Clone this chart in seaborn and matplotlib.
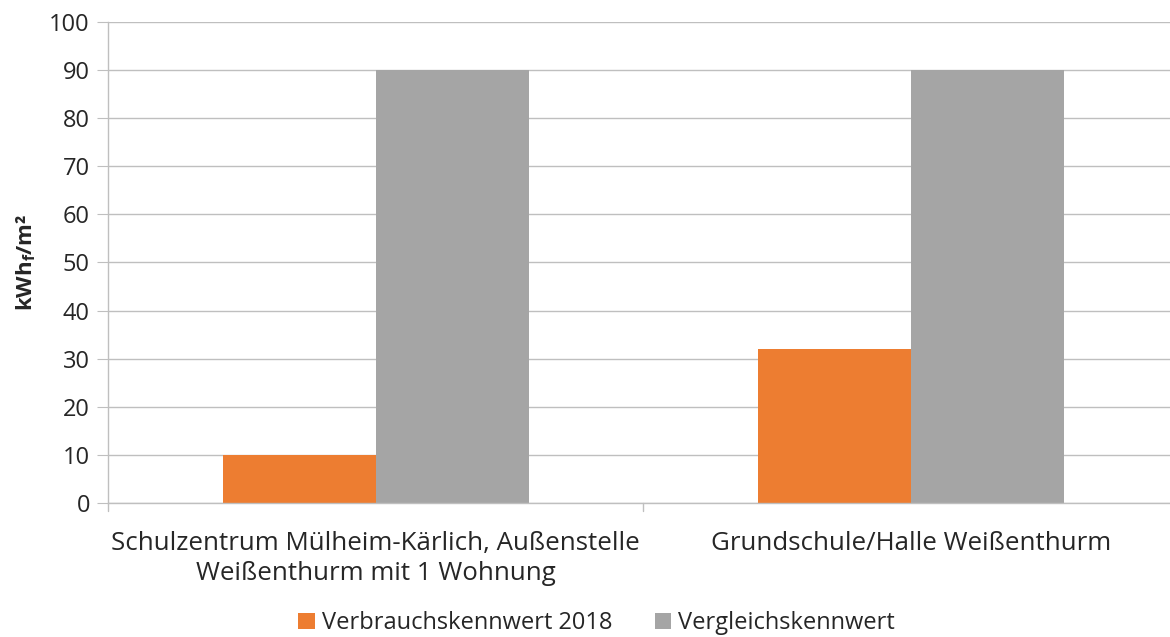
import pandas as pd
import matplotlib.pyplot as plt
import seaborn as sns

# Data
categories = ['Schulzentrum Mülheim-Kärlich, Außenstelle\nWeißenthurm mit 1 Wohnung',
              'Grundschule/Halle Weißenthurm']
verbrauch_2018 = [10, 32]
vergleich = [90, 90]
series_names = ['Verbrauchskennwert 2018', 'Vergleichskennwert']
colors = ['#ED7D31', '#A5A5A5']
y_ticks = list(range(0, 101, 10))

df = pd.DataFrame({
    'Gebäude': categories * 2,
    'Wert': verbrauch_2018 + vergleich,
    'Reihe': [series_names[0]] * 2 + [series_names[1]] * 2,
})

sns.set_style('white')
plt.rcParams['font.family'] = ['Open Sans', 'DejaVu Sans']
plt.rcParams['mathtext.default'] = 'regular'

fig = plt.figure(figsize=(11.7, 6.37), dpi=100)
ax = fig.add_axes([0.0923, 0.2104, 0.9077, 0.7551])

sns.barplot(data=df, x='Gebäude', y='Wert', hue='Reihe', palette=colors,
            width=0.572, saturation=1, gap=0, linewidth=0, ax=ax, legend=True)

ax.set_ylim(0, 100)
ax.set_xlim(-0.5, 1.484)
ax.set_yticks(y_ticks)
ax.yaxis.grid(True, color='#BFBFBF', linewidth=1)
ax.set_axisbelow(True)

for side in ['top', 'right']:
    ax.spines[side].set_visible(False)
for side in ['left', 'bottom']:
    ax.spines[side].set_color('#BFBFBF')
    ax.spines[side].set_linewidth(1)

ax.tick_params(axis='y', labelsize=17, length=8, color='#BFBFBF', direction='out', left=True, pad=5)
ax.set_xticks([0, 1])
ax.set_xticklabels(categories, fontsize=18.6, linespacing=1.25)
ax.tick_params(axis='x', length=0, pad=20)
# small separator ticks between categories
for xpos in [-0.5, 0.5]:
    ax.plot([xpos, xpos], [0, -1.6], color='#BFBFBF', lw=1, clip_on=False)

ax.set_xlabel('')
ax.set_ylabel(r'kWh$_{f}$/m²', fontsize=16, fontweight='bold', labelpad=8)

handles, labels = ax.get_legend_handles_labels()
ax.legend(handles, labels, loc='center', bbox_to_anchor=(0.46, -0.25),
          ncol=2, frameon=False, fontsize=17, handlelength=0.7, handleheight=0.7,
          columnspacing=1.8, handletextpad=0.3)

plt.savefig('out.png', dpi=100)
